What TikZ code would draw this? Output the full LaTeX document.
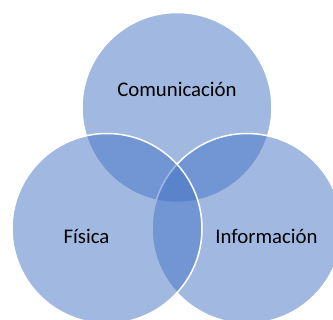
\documentclass[tikz,border=0pt]{standalone}
\usepackage{fontspec}
\setmainfont{Carlito}
\definecolor{accent}{HTML}{4472C4}
\tikzset{
  venn/.style={circle, minimum size=190pt, inner sep=0pt, fill=accent, fill opacity=0.5, draw=white, draw opacity=1, line width=1.5pt},
  lbl/.style={font=\fontsize{20.8pt}{24pt}\selectfont, text=black, inner sep=0pt}
}
\begin{document}
\begin{tikzpicture}[x=1pt,y=-1pt]
\useasboundingbox (0,0) rectangle (333,320);
\clip (0,0) rectangle (333,320);
\node[venn] (top) at (177,107.5) {};
\node[venn] (right) at (247,228.5) {};
\node[venn] (left) at (107,228.5) {};
\node[lbl] (tcom) at (177,89) {Comunicación};
\node[lbl] (tfis) at (86.5,236.5) {Física};
\node[lbl] (tinf) at (266.5,236.5) {Información};
\end{tikzpicture}
\end{document}
